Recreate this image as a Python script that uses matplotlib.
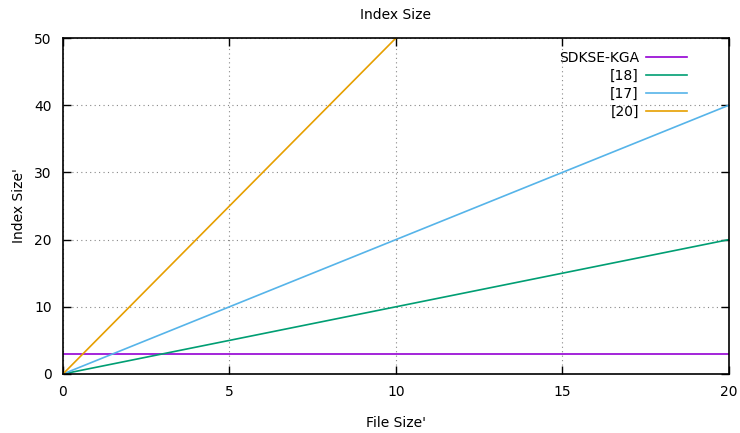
import numpy as np
import matplotlib
matplotlib.use("Agg")
import matplotlib.pyplot as plt

# index size vs file size for each scheme
x_vals = np.array([0, 20])
sdkse_kga = np.array([3, 3])
ref18 = np.array([0, 20])
ref17 = np.array([0, 40])
x_ref20 = np.array([0, 10])
ref20 = np.array([0, 50])

labels = ["SDKSE-KGA", "[18]", "[17]", "[20]"]
colors = ["#9400d3", "#009e73", "#56b4e9", "#e69f00"]

plt.rcParams["font.family"] = ["DejaVu Sans"]
plt.rcParams["font.size"] = 10

fig = plt.figure(figsize=(7.4, 4.33), dpi=100)
ax = fig.add_axes([0.0851, 0.1363, 0.8999, 0.7759])

ax.plot(x_vals, sdkse_kga, color=colors[0], lw=1.2, label=labels[0])
ax.plot(x_vals, ref18, color=colors[1], lw=1.2, label=labels[1])
ax.plot(x_vals, ref17, color=colors[2], lw=1.2, label=labels[2])
ax.plot(x_ref20, ref20, color=colors[3], lw=1.2, label=labels[3])

ax.set_xlim(0, 20)
ax.set_ylim(0, 50)
ax.set_xticks(np.arange(0, 21, 5))
ax.set_yticks(np.arange(0, 51, 10))
ax.tick_params(direction="in", top=True, right=True, length=6, width=1,
               labelsize=10, pad=8)
for s in ax.spines.values():
    s.set_linewidth(1.2)
ax.grid(True, linestyle=(0, (1, 3)), color="#888888", linewidth=0.8)

ax.set_title("Index Size", fontsize=10, pad=14)
ax.set_xlabel("File Size'", fontsize=10, labelpad=12)
ax.set_ylabel("Index Size'", fontsize=10, labelpad=6)

leg = ax.legend(loc="upper right", frameon=False, markerfirst=False,
                handlelength=3.0, handletextpad=0.5, fontsize=10,
                borderaxespad=0.0, labelspacing=0.3,
                bbox_to_anchor=(0.946, 0.979))
for t in leg.get_texts():
    t.set_ha("right")

fig.savefig("out.png", dpi=100)
